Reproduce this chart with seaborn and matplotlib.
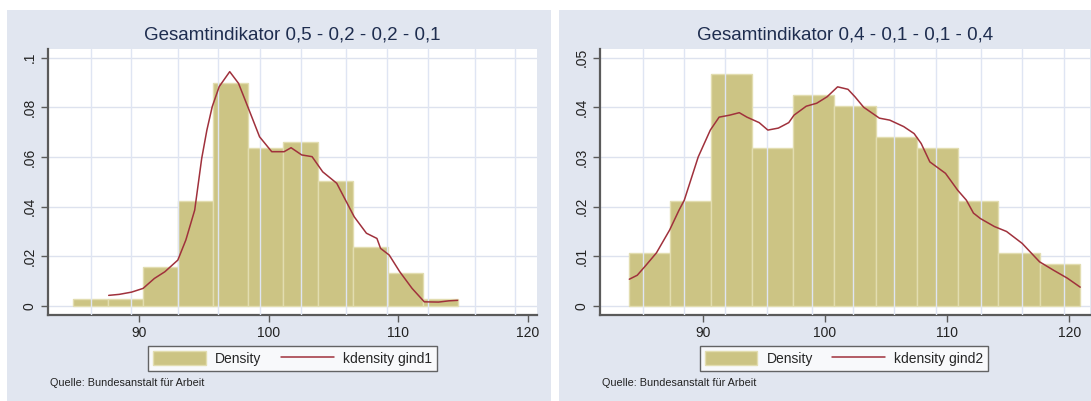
import numpy as np
import pandas as pd
import matplotlib
matplotlib.use('Agg')
import matplotlib.pyplot as plt
from matplotlib.patches import Rectangle, Patch
from matplotlib.lines import Line2D
import seaborn as sns

# ------------------------------------------------------------
# Data (histogram densities + kdensity)
# ------------------------------------------------------------
# left panel: gind1
edges1 = [84.9, 87.6, 90.3, 93.0, 95.7, 98.4, 101.1, 103.8, 106.5, 109.2, 111.9, 114.6]
dens1 = [0.0027, 0.0027, 0.0158, 0.0423, 0.0899, 0.0636, 0.0661, 0.0502, 0.0237, 0.0133, 0.0027]
kde1_x = [87.67, 88.48, 89.43, 90.32, 91.19, 92.0, 93.0, 93.62, 94.3, 94.84, 95.24, 95.65,
          96.19, 97.0, 97.68, 98.49, 99.3, 100.24, 101.19, 101.73, 102.55, 103.35, 104.17,
          105.25, 105.92, 106.6, 107.54, 108.35, 108.63, 109.3, 110.11, 111.06, 112.0,
          113.1, 113.9, 114.57]
kde1_y = [0.0043, 0.0047, 0.0056, 0.0071, 0.0111, 0.0138, 0.0185, 0.0266, 0.0386, 0.0594,
          0.0708, 0.0802, 0.0883, 0.0943, 0.0896, 0.0789, 0.0681, 0.0621, 0.0621, 0.0637,
          0.0608, 0.0601, 0.054, 0.0494, 0.0427, 0.0359, 0.0293, 0.0272, 0.0232, 0.0205,
          0.0138, 0.0071, 0.0017, 0.0016, 0.0021, 0.0023]

# right panel: gind2
edges2 = [83.99, 87.3, 90.68, 94.05, 97.42, 100.78, 104.17, 107.51, 110.87, 114.2, 117.57, 120.9]
dens2 = [0.0107, 0.0211, 0.0467, 0.0318, 0.0425, 0.0403, 0.034, 0.0318, 0.0211, 0.0107, 0.0085]
kde2_x = [83.99, 84.64, 85.35, 86.21, 87.29, 88.06, 88.49, 89.63, 90.62, 91.34, 92.2, 92.99,
          93.62, 94.62, 95.33, 96.19, 97.04, 97.47, 98.47, 99.33, 100.18, 101.04, 101.89,
          102.46, 103.17, 104.46, 105.31, 106.45, 107.3, 107.88, 108.59, 109.87, 110.87,
          111.58, 112.16, 112.73, 113.87, 114.87, 116.15, 117.57, 118.72, 119.85, 120.9]
kde2_y = [0.0054, 0.0062, 0.0082, 0.0107, 0.0153, 0.0193, 0.0213, 0.030, 0.0354, 0.038,
          0.0384, 0.0389, 0.038, 0.0369, 0.0354, 0.0358, 0.0369, 0.0384, 0.0402, 0.0408,
          0.0421, 0.0441, 0.0436, 0.0421, 0.040, 0.0378, 0.0374, 0.0361, 0.0347, 0.0327,
          0.029, 0.0267, 0.0233, 0.0213, 0.0187, 0.0176, 0.016, 0.015, 0.0126, 0.0089,
          0.0072, 0.0056, 0.0038]

titles = ['Gesamtindikator 0,5 - 0,2 - 0,2 - 0,1', 'Gesamtindikator 0,4 - 0,1 - 0,1 - 0,4']
kde_labels = ['kdensity gind1', 'kdensity gind2']
source = 'Quelle: Bundesanstalt für Arbeit'
xticks = [90, 100, 110, 120]
yticks1 = [0, 0.02, 0.04, 0.06, 0.08, 0.1]
ylabels1 = ['0', '.02', '.04', '.06', '.08', '.1']
yticks2 = [0, 0.01, 0.02, 0.03, 0.04, 0.05]
ylabels2 = ['0', '.01', '.02', '.03', '.04', '.05']

# ------------------------------------------------------------
# Style
# ------------------------------------------------------------
sns.set_theme(style='white')
plt.rcParams['font.family'] = ['Liberation Sans', 'DejaVu Sans']

BG = '#e1e6f0'
BAR = '#ccc484'
BAR_EDGE = '#e2ddb0'
KDE = '#a0313c'
GRID = '#dde2ee'
AXIS = '#5a5a5a'
TITLE = '#1e2d4f'

W, H = 1091, 401
fig = plt.figure(figsize=(W / 100, H / 100), dpi=100)

def fx(px):
    return px / W

def fy(py):
    return 1 - py / H

# panel backgrounds (pixel boxes)
for x0, x1 in [(7, 551), (559, 1091)]:
    fig.patches.append(Rectangle((fx(x0), 0), fx(x1 - x0), fy(10), transform=fig.transFigure,
                                 facecolor=BG, edgecolor='none', zorder=-5))

panels = [
    dict(edges=edges1, dens=dens1, kx=kde1_x, ky=kde1_y, ax_px=(48, 536.6), xlim=(82.99, 120.66),
         ylim=(-0.0036, 0.1033), yt=yticks1, yl=ylabels1,
         vgrid=[86.27, 89.4, 93.0, 96.1, 99.3, 102.5, 106.0, 109.1, 112.3, 115.9, 119.0],
         legend_cx=292.5, src_x=50),
    dict(edges=edges2, dens=dens2, kx=kde2_x, ky=kde2_y, ax_px=(600, 1090), xlim=(81.59, 121.7),
         ylim=(-0.0018, 0.05165), yt=yticks2, yl=ylabels2,
         vgrid=[85.15, 88.49, 91.86, 95.24, 98.98, 102.34, 105.68, 109.08, 112.81, 116.15, 119.57],
         legend_cx=844, src_x=602),
]

for i, p in enumerate(panels):
    x0, x1 = p['ax_px']
    ax = fig.add_axes([fx(x0), fy(315), fx(x1 - x0), (315 - 49.3) / H])
    ax.set_zorder(2)
    ax.set_facecolor('white')

    edges = list(p['edges'])
    centers = [(a + b) / 2 for a, b in zip(edges[:-1], edges[1:])]
    df = pd.DataFrame({'x': centers, 'w': p['dens']})
    sns.histplot(data=df, x='x', weights='w', bins=edges, stat='count', ax=ax,
                 color=BAR, edgecolor=BAR_EDGE, linewidth=1.0, alpha=1, zorder=2)

    kd = pd.DataFrame({'x': p['kx'], 'y': p['ky']})
    sns.lineplot(data=kd, x='x', y='y', ax=ax, color=KDE, linewidth=1.1, sort=False,
                 estimator=None, zorder=4)

    # grid
    for yv in p['yt']:
        ax.axhline(yv, color=GRID, linewidth=1.0, zorder=1)
    for xv in p['vgrid']:
        ax.axvline(xv, color='#dfe5f3', linewidth=1.0, zorder=3)

    ax.set_xlim(*p['xlim'])
    ax.set_ylim(*p['ylim'])
    ax.set_xticks(xticks)
    ax.set_xticklabels([str(t) for t in xticks])
    ax.set_yticks(p['yt'])
    ax.set_yticklabels(p['yl'], rotation=90, va='center')
    ax.set_xlabel('')
    ax.set_ylabel('')
    ax.tick_params(axis='both', which='major', direction='out', length=5, width=1.0,
                   color=AXIS, labelsize=10, labelcolor='#222222', pad=3,
                   bottom=True, left=True)
    for s in ['top', 'right']:
        ax.spines[s].set_visible(False)
    for s in ['left', 'bottom']:
        ax.spines[s].set_color(AXIS)
        ax.spines[s].set_linewidth(1.6)

    # title
    fig.text(fx((x0 + x1) / 2), fy(35), titles[i], ha='center', va='center',
             fontsize=13.5, color=TITLE)

    # legend
    handles = [Patch(facecolor=BAR, edgecolor=BAR_EDGE, label='Density'),
               Line2D([0], [0], color=KDE, linewidth=1.1, label=kde_labels[i])]
    leg = fig.legend(handles=handles, loc='center', ncol=2,
                     bbox_to_anchor=(fx(p['legend_cx']), fy(358.5)),
                     frameon=True, fancybox=False, fontsize=10, handlelength=3.8,
                     handleheight=1.2, handletextpad=0.65, columnspacing=1.4,
                     borderpad=0.35, borderaxespad=0)
    leg.get_frame().set_edgecolor('#404040')
    leg.get_frame().set_linewidth(1.0)
    leg.get_frame().set_facecolor('white')

    fig.text(fx(p['src_x']), fy(383), source, ha='left', va='center', fontsize=7.8,
             color='#222222')

fig.savefig('out.png', dpi=100)
